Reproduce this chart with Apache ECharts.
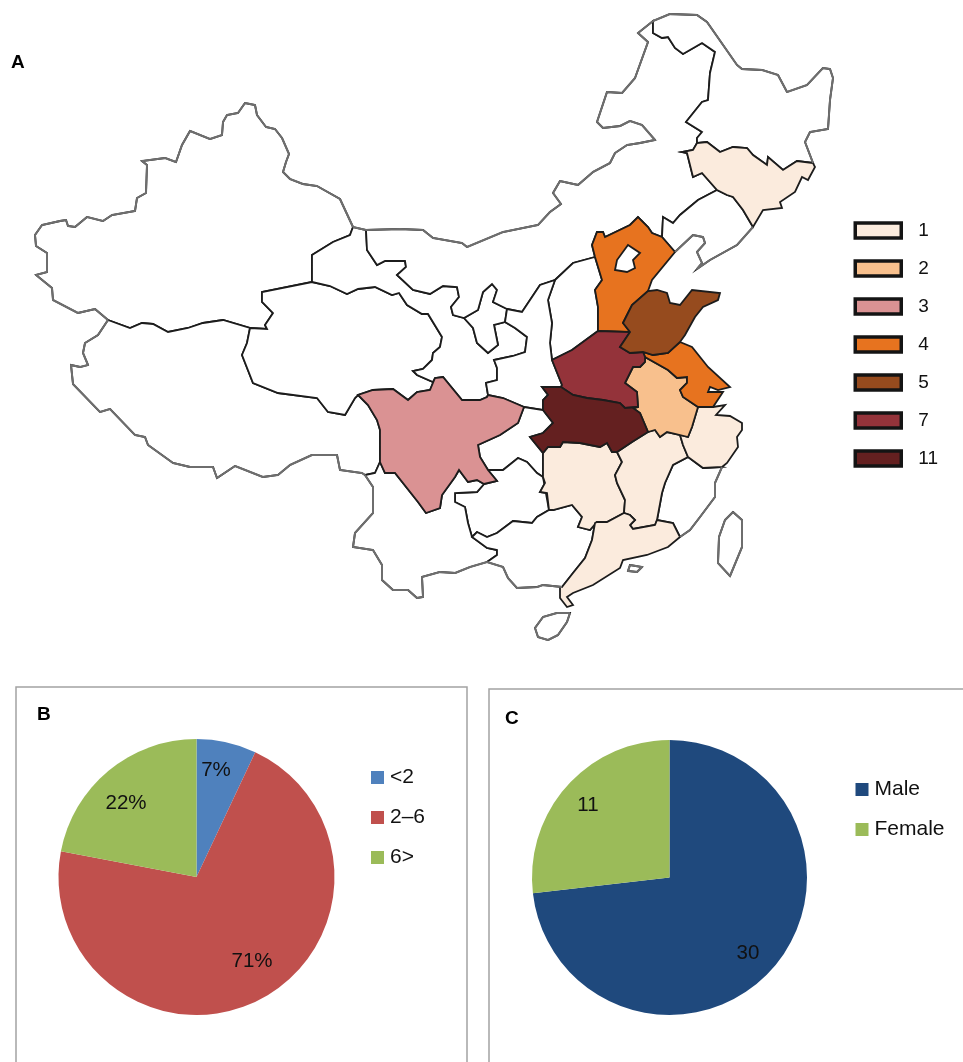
<!DOCTYPE html>
<html><head><meta charset="utf-8">
<style>html,body{margin:0;padding:0;background:#fff}#c{width:963px;height:1062px}</style>
<script src="https://cdn.jsdelivr.net/npm/echarts@6/dist/echarts.min.js"></script></head>
<body><div id="c"></div>
<script>
// Case counts per province
const provinceCounts = [['Jilin',1],['Hunan',1],['Jiangxi',1],['Zhejiang',1],['Guangdong',1],['Anhui',2],['Sichuan',3],['Hebei',4],['Jiangsu',4],['Shandong',5],['Henan',7],['Hubei',11]];
const mapClasses = ['1','2','3','4','5','7','11'];
const mapColors = ['#FBEBDD','#F8C08D','#DA9293','#E7731F','#964B1E','#94333A','#642020'];
// Panel B
const ageNames = ['<2','2–6','6>'];
const ageValues = [7,71,22];
const ageColors = ['#4F81BD','#C0504D','#9BBB59'];
// Panel C
const sexNames = ['Male','Female'];
const sexValues = [30,11];
const sexColors = ['#1F497D','#9BBB59'];

// Map outline arcs (schematic map geometry)
const xjOuter=[[353,227],[340,199],[317,186],[303,184],[290,179],[283,172],[286,162],[289,154],[282,138],[275,129],[266,127],[257,115],[255,105],[245,103],[238,113],[227,115],[223,122],[222,135],[210,139],[190,131],[182,145],[176,162],[165,158],[142,161],[147,165],[146,193],[137,198],[135,211],[112,215],[103,221],[87,217],[75,227],[68,226],[66,220],[60,221],[42,225],[35,235],[36,246],[47,253],[47,272],[36,275],[52,288],[53,300],[78,313],[95,309],[108,320]];
const xjTib=[[108,320],[130,328],[142,323],[153,324],[168,332],[188,328],[203,323],[223,320],[250,328]];
const xjQin=[[250,328],[267,329],[265,325],[273,313],[262,302],[262,292],[312,282]];
const xjGan=[[312,282],[312,255],[333,242],[350,235],[353,227]];
const tibOuter=[[108,320],[98,335],[85,343],[83,353],[88,365],[80,367],[71,365],[73,384],[100,412],[110,409],[135,435],[145,437],[148,445],[173,463],[190,467],[213,467],[217,478],[235,466],[263,477],[278,475],[290,465],[312,455],[337,455],[340,470],[362,473],[365,475]];
const tibYun=[[365,475],[375,473],[380,462]];
const scWest=[[380,462],[380,430],[377,420],[368,405],[358,395]];
const qinTib=[[250,328],[249,333],[247,343],[242,355],[253,383],[278,393],[317,398],[328,412],[345,415],[355,398],[358,395]];
const scQin=[[358,395],[373,390],[393,389],[408,400],[417,392],[430,390],[435,378]];
const qinGan=[[435,378],[433,382],[417,375],[413,371],[423,369],[432,360],[433,353],[440,347],[442,337],[428,314],[422,314],[407,305],[399,293],[392,295],[375,287],[358,289],[347,294],[330,286],[312,282]];
const scGan=[[435,378],[443,377],[462,400],[480,400],[487,397],[488,395]];
const scShaan=[[488,395],[503,398],[524,407]];
const scCq=[[524,407],[518,423],[500,435],[478,445],[480,457],[488,470]];
const scGz=[[488,470],[497,481],[484,484]];
const scYun=[[484,484],[477,480],[468,482],[459,470],[455,477],[442,495],[440,508],[426,513],[418,502],[395,473],[385,473],[380,462]];
const ganOuter=[[353,227],[366,230]];
const imOuter=[[366,230],[400,229],[423,230],[433,238],[462,243],[467,247],[503,232],[538,225],[550,212],[561,204],[553,193],[560,181],[578,185],[593,172],[610,163],[615,153],[627,145],[640,143],[655,140],[642,125],[630,121],[620,126],[603,128],[597,122],[607,92],[622,93],[635,78],[648,42],[638,33],[653,21]];
const imGan=[[366,230],[367,250],[377,265],[385,261],[405,261],[406,267],[397,275],[413,290],[430,294],[443,286],[457,287],[459,297],[451,307],[453,315],[464,318]];
const imNx=[[464,318],[478,310],[483,292],[492,284],[497,290],[493,302],[507,309]];
const nxGan=[[464,318],[473,328],[477,343],[488,353],[498,345],[494,325],[505,322]];
const ganShaan=[[505,322],[515,328],[527,337],[525,352],[513,356],[494,360],[497,368],[497,380],[486,383],[488,395]];
const imShaan=[[507,309],[522,312],[540,285],[555,280]];
const shxShaan=[[555,280],[548,300],[552,323],[550,343],[552,360]];
const shxIm=[[555,280],[573,263],[595,257]];
const hebIm=[[662,237],[652,233],[648,227],[638,217],[630,225],[605,237],[603,232],[597,232],[592,245],[595,257]];
const hebShx=[[595,257],[602,280],[595,290],[598,307],[598,331]];
const shxHen=[[598,331],[572,350],[552,360]];
const henShaan=[[552,360],[562,385],[561,387]];
const henHub=[[561,387],[573,395],[587,398],[603,400],[620,403],[625,408],[638,407]];
const hubShaan=[[561,387],[542,387],[548,395],[543,400],[543,410]];
const hubCq=[[543,410],[553,423],[543,433],[530,437],[543,453]];
const shaanCq=[[543,410],[524,407]];
const cqGz=[[488,470],[503,470],[518,458],[527,462],[537,473],[543,477]];
const hubHun=[[543,453],[548,447],[560,447],[563,442],[580,443],[590,445],[600,447],[607,443],[612,452],[617,452]];
const hubJx=[[617,452],[632,442],[648,432]];
const hubAnh=[[648,432],[640,413],[633,408],[638,407]];
const henAnh=[[638,407],[637,392],[625,383],[633,367],[640,367],[645,362],[645,357]];
const henJs=[[645,357],[643,352]];
const henSd=[[643,352],[630,353],[620,347],[630,332]];
const hebHen=[[598,331],[630,332]];
const sdHeb=[[630,332],[623,323],[632,305],[648,291]];
const hebCoast=[[648,291],[652,280],[675,252]];
const sdCoast=[[648,291],[657,290],[667,293],[670,303],[680,305],[692,290],[720,293],[718,300],[703,307],[695,317],[685,335],[680,342]];
const sdJs=[[680,342],[668,353],[653,355],[643,352]];
const jsCoast=[[680,342],[692,347],[708,367],[730,387],[718,390],[710,387],[708,392],[723,392],[713,407],[698,407]];
const jsAnh=[[645,357],[668,370],[677,378],[687,377],[687,383],[680,390],[683,397],[698,407]];
const anhZj=[[698,407],[692,427],[688,437],[680,435]];
const anhJx=[[680,435],[667,432],[660,437],[655,430],[648,432]];
const zjCoast=[[698,407],[713,407],[725,405],[716,415],[730,416],[742,423],[742,430],[737,437],[738,447],[727,463],[722,467]];
const zjFj=[[722,467],[703,468],[688,457]];
const zjJx=[[688,457],[683,445],[680,435]];
const jxFj=[[688,457],[673,465],[665,483],[662,493],[657,520]];
const fjCoast=[[722,467],[715,483],[715,497],[700,517],[690,530],[680,537]];
const fjGd=[[657,520],[673,523],[680,537]];
const jxGd=[[657,520],[655,525],[633,529],[630,525],[635,520],[630,515],[624,513]];
const jxHun=[[617,452],[622,462],[615,475],[617,483],[625,500],[624,513]];
const hunGd=[[624,513],[607,522],[597,522]];
const hunGx=[[597,522],[590,530],[578,527],[582,517],[572,505],[553,510],[549,510]];
const hunGz=[[549,510],[547,493],[540,492],[545,483],[543,477]];
const hunCq=[[543,477],[543,453]];
const gzGx=[[549,510],[537,517],[532,523],[513,521],[497,533],[487,537],[477,532],[472,537]];
const gzYun=[[472,537],[468,523],[465,507],[455,502],[455,493],[477,492],[484,484]];
const yunOuter=[[365,475],[373,487],[373,513],[355,533],[353,547],[373,550],[382,565],[382,580],[393,590],[408,590],[417,598],[423,597],[422,577],[440,572],[455,573],[470,567],[487,562]];
const yunGx=[[487,562],[497,555],[497,550],[487,548],[472,537]];
const gxCoast=[[487,562],[503,567],[508,578],[517,588],[537,587],[543,585],[562,587]];
const gxGd=[[562,587],[573,573],[585,558],[592,540],[595,523],[597,522]];
const gdCoast=[[680,537],[668,547],[647,555],[623,560],[620,568],[593,585],[573,593],[567,597],[573,605],[567,607],[560,598],[560,587],[562,587]];
const hljOuter=[[653,21],[670,14],[697,15],[707,22],[737,65],[742,69],[762,70],[778,75],[787,92],[807,85],[823,68],[830,69],[833,78],[830,100],[828,129],[810,132],[805,142],[813,163]];
const imHlj=[[653,21],[653,33],[662,38],[668,37],[675,48],[683,54],[702,43],[715,52],[710,73],[708,100],[702,102],[686,122],[702,132],[697,138],[697,143]];
const hlJil=[[813,163],[797,161],[783,170],[768,157],[767,165],[753,155],[747,148],[733,147],[720,152],[707,142],[697,143]];
const imJil=[[697,143],[693,150],[682,152],[687,153],[693,177],[702,173],[717,190]];
const jilLn=[[717,190],[727,195],[733,197],[743,210],[753,227]];
const jlCoast=[[813,163],[815,167],[808,180],[802,177],[795,192],[780,202],[782,208],[763,210],[753,227]];
const imLn=[[717,190],[698,200],[680,215],[673,223],[663,217],[662,237]];
const lnHeb=[[662,237],[675,252]];
const lnCoast=[[753,227],[737,245],[710,260],[697,269],[702,263],[697,252],[705,243],[703,237],[693,235],[675,252]];
const beijingRing=[[628,245],[640,253],[633,260],[635,268],[627,272],[615,270],[617,260]];
const hainanRing=[[570,613],[567,622],[558,635],[548,640],[538,637],[535,628],[543,617],[557,613],[570,613]];
const taiwanRing=[[733,512],[742,520],[742,547],[730,576],[718,563],[719,537],[725,520],[733,512]];
const isletRing=[[630,565],[642,567],[637,572],[628,571],[630,565]];

const rev = a => a.slice().reverse();
const regions = {
  Xinjiang:[xjOuter,xjTib,xjQin,xjGan],
  Xizang:[tibOuter,tibYun,scWest,rev(qinTib),rev(xjTib)],
  Qinghai:[xjQin,rev(qinGan),rev(scQin),rev(qinTib)],
  Gansu:[xjGan,ganOuter,imGan,nxGan,ganShaan,rev(scGan),qinGan],
  Ningxia:[imNx,[[505,322]],rev(nxGan)],
  NeiMongol:[imOuter,imHlj,imJil,imLn,hebIm,rev(shxIm),rev(imShaan),rev(imNx),rev(imGan)],
  Heilongjiang:[hljOuter,hlJil,rev(imHlj)],
  Liaoning:[rev(jilLn),imLn,lnHeb,rev(lnCoast)],
  Shanxi:[shxIm,hebShx,shxHen,rev(shxShaan)],
  Shaanxi:[imShaan,shxShaan,henShaan,hubShaan,shaanCq,rev(scShaan),rev(ganShaan),[[507,309]]],
  Chongqing:[scCq,cqGz,hunCq,rev(hubCq),shaanCq],
  Guizhou:[scGz,rev(gzYun),rev(gzGx),rev(hunGz),rev(cqGz)],
  Yunnan:[yunOuter,yunGx,gzYun,scYun,rev(tibYun)],
  Guangxi:[yunGx,rev(gzGx),rev(hunGx),rev(gxGd),rev(gxCoast)],
  Fujian:[rev(zjFj),jxFj,fjGd,rev(fjCoast)],
  Hainan:[hainanRing],
  Taiwan:[taiwanRing],
  Islet:[isletRing],
  Jilin:[hlJil,imJil,jilLn,rev(jlCoast)],
  Sichuan:[scWest,scQin,scGan,scShaan,scCq,scGz,scYun],
  Hunan:[hubHun,jxHun,hunGd,hunGx,hunGz,hunCq],
  Jiangxi:[rev(hubJx),jxHun,rev(jxGd),rev(jxFj),zjJx,anhJx],
  Zhejiang:[zjCoast,zjFj,zjJx,rev(anhZj)],
  Guangdong:[gxGd,rev(hunGd),rev(jxGd),fjGd,gdCoast],
  Anhui:[jsAnh,anhZj,anhJx,hubAnh,henAnh],
  Hebei:[hebShx,hebHen,sdHeb,hebCoast,rev(lnHeb),hebIm],
  Jiangsu:[jsCoast,rev(jsAnh),henJs,rev(sdJs)],
  Henan:[henShaan,henHub,henAnh,henJs,henSd,rev(hebHen),shxHen],
  Hubei:[henHub,rev(hubAnh),rev(hubJx),rev(hubHun),rev(hubCq),rev(hubShaan)],
  Shandong:[sdHeb,sdCoast,sdJs,henSd],
  Beijing:[beijingRing]
};
const coastArcs=[xjOuter,tibOuter,yunOuter,gxCoast,fjCoast,lnCoast,imOuter,ganOuter,hljOuter,hainanRing,taiwanRing,isletRing];

const toGeo = pts => pts.map(([x,y]) => [x,-y]);
const geoJson = {type:'FeatureCollection',features:Object.keys(regions).map(name => {
  const ring = toGeo(regions[name].flat());
  ring.push(ring[0]);
  return {type:'Feature',properties:{name},geometry:{type:'Polygon',coordinates:[ring]}};
})};
echarts.registerMap('cnSketch', geoJson);

const chart = echarts.init(document.getElementById('c'), null, {renderer:'canvas'});
const font = 'Liberation Sans';
const agePos = [[216,770],[252,961],[126,803]];
const sexPos = [[748,953],[588,805]];
const panelLine = {stroke:'#a3a3a3',lineWidth:1.5};

chart.setOption({
  backgroundColor:'#fff',
  animation:false,
  title:[
    {text:'A',left:11,top:53,padding:0,textStyle:{fontFamily:font,fontWeight:'bold',fontSize:19,color:'#000'}},
    {text:'B',left:37,top:705,padding:0,textStyle:{fontFamily:font,fontWeight:'bold',fontSize:19,color:'#000'}},
    {text:'C',left:505,top:709,padding:0,textStyle:{fontFamily:font,fontWeight:'bold',fontSize:19,color:'#000'}}
  ],
  geo:{map:'cnSketch',left:0,top:0,width:963,height:1062,aspectScale:1,
    boundingCoords:[[0,0],[963,-1062]],roam:false,silent:true,
    label:{show:false},
    itemStyle:{areaColor:'#fff',borderColor:'#1c1c1c',borderWidth:1.8},
    emphasis:{disabled:true}},
  visualMap:{show:false,type:'piecewise',seriesIndex:0,
    pieces:mapClasses.map((c,i)=>({value:+c,color:mapColors[i]})),outOfRange:{color:'#fff'}},
  legend:[
    {data:mapClasses,orient:'vertical',padding:0,left:853.5,top:221,itemWidth:46,itemHeight:15,itemGap:19,icon:'rect',selectedMode:false,
      itemStyle:{borderColor:'#141414',borderWidth:3.5},
      textStyle:{fontFamily:font,fontSize:19,color:'#111',padding:[0,0,0,12]}},
    {data:ageNames,orient:'vertical',padding:0,left:371,top:767,itemWidth:13,itemHeight:13,itemGap:19,icon:'rect',selectedMode:false,
      itemStyle:{borderWidth:0},textStyle:{fontFamily:font,fontSize:21,color:'#111',padding:[0,0,0,1]}},
    {data:sexNames,orient:'vertical',padding:0,left:855.5,top:779,itemWidth:13,itemHeight:13,itemGap:19,icon:'rect',selectedMode:false,
      itemStyle:{borderWidth:0},textStyle:{fontFamily:font,fontSize:21,color:'#111',padding:[0,0,0,1]}}
  ],
  graphic:[
    {type:'polyline',silent:true,shape:{points:[[16,1062],[16,687],[467,687],[467,1062]]},style:Object.assign({fill:null},panelLine)},
    {type:'polyline',silent:true,shape:{points:[[489,1062],[489,689],[963,689]]},style:Object.assign({fill:null},panelLine)}
  ],
  series:[
    {type:'map',geoIndex:0,name:'Cases',silent:true,
      data:provinceCounts.map(([name,value])=>({name,value}))},
    {type:'lines',coordinateSystem:'geo',polyline:true,silent:true,zlevel:0,
      lineStyle:{color:'#6e6e6e',width:2,opacity:1,join:'round'},
      data:coastArcs.map(a=>({coords:toGeo(a)}))},
    ...mapClasses.map((c,i)=>({type:'scatter',coordinateSystem:'geo',name:c,data:[],itemStyle:{color:mapColors[i],opacity:1}})),
    {type:'pie',name:'Age',center:[196.5,877],radius:138,startAngle:90,clockwise:true,silent:true,
      data:ageNames.map((n,i)=>({name:n,value:ageValues[i],itemStyle:{color:ageColors[i]}})),
      label:{show:true,position:'inside',formatter:'{c}%',fontFamily:font,fontSize:20.5,color:'#111'},
      labelLine:{show:false},
      labelLayout:p=>({x:agePos[p.dataIndex][0],y:agePos[p.dataIndex][1],align:'center',verticalAlign:'middle'})},
    {type:'pie',name:'Sex',center:[669.5,877.5],radius:137.5,startAngle:90,clockwise:true,silent:true,
      data:sexNames.map((n,i)=>({name:n,value:sexValues[i],itemStyle:{color:sexColors[i]}})),
      label:{show:true,position:'inside',formatter:'{c}',fontFamily:font,fontSize:20.5,color:'#111'},
      labelLine:{show:false},
      labelLayout:p=>({x:sexPos[p.dataIndex][0],y:sexPos[p.dataIndex][1],align:'center',verticalAlign:'middle'})}
  ]
});
</script></body></html>
